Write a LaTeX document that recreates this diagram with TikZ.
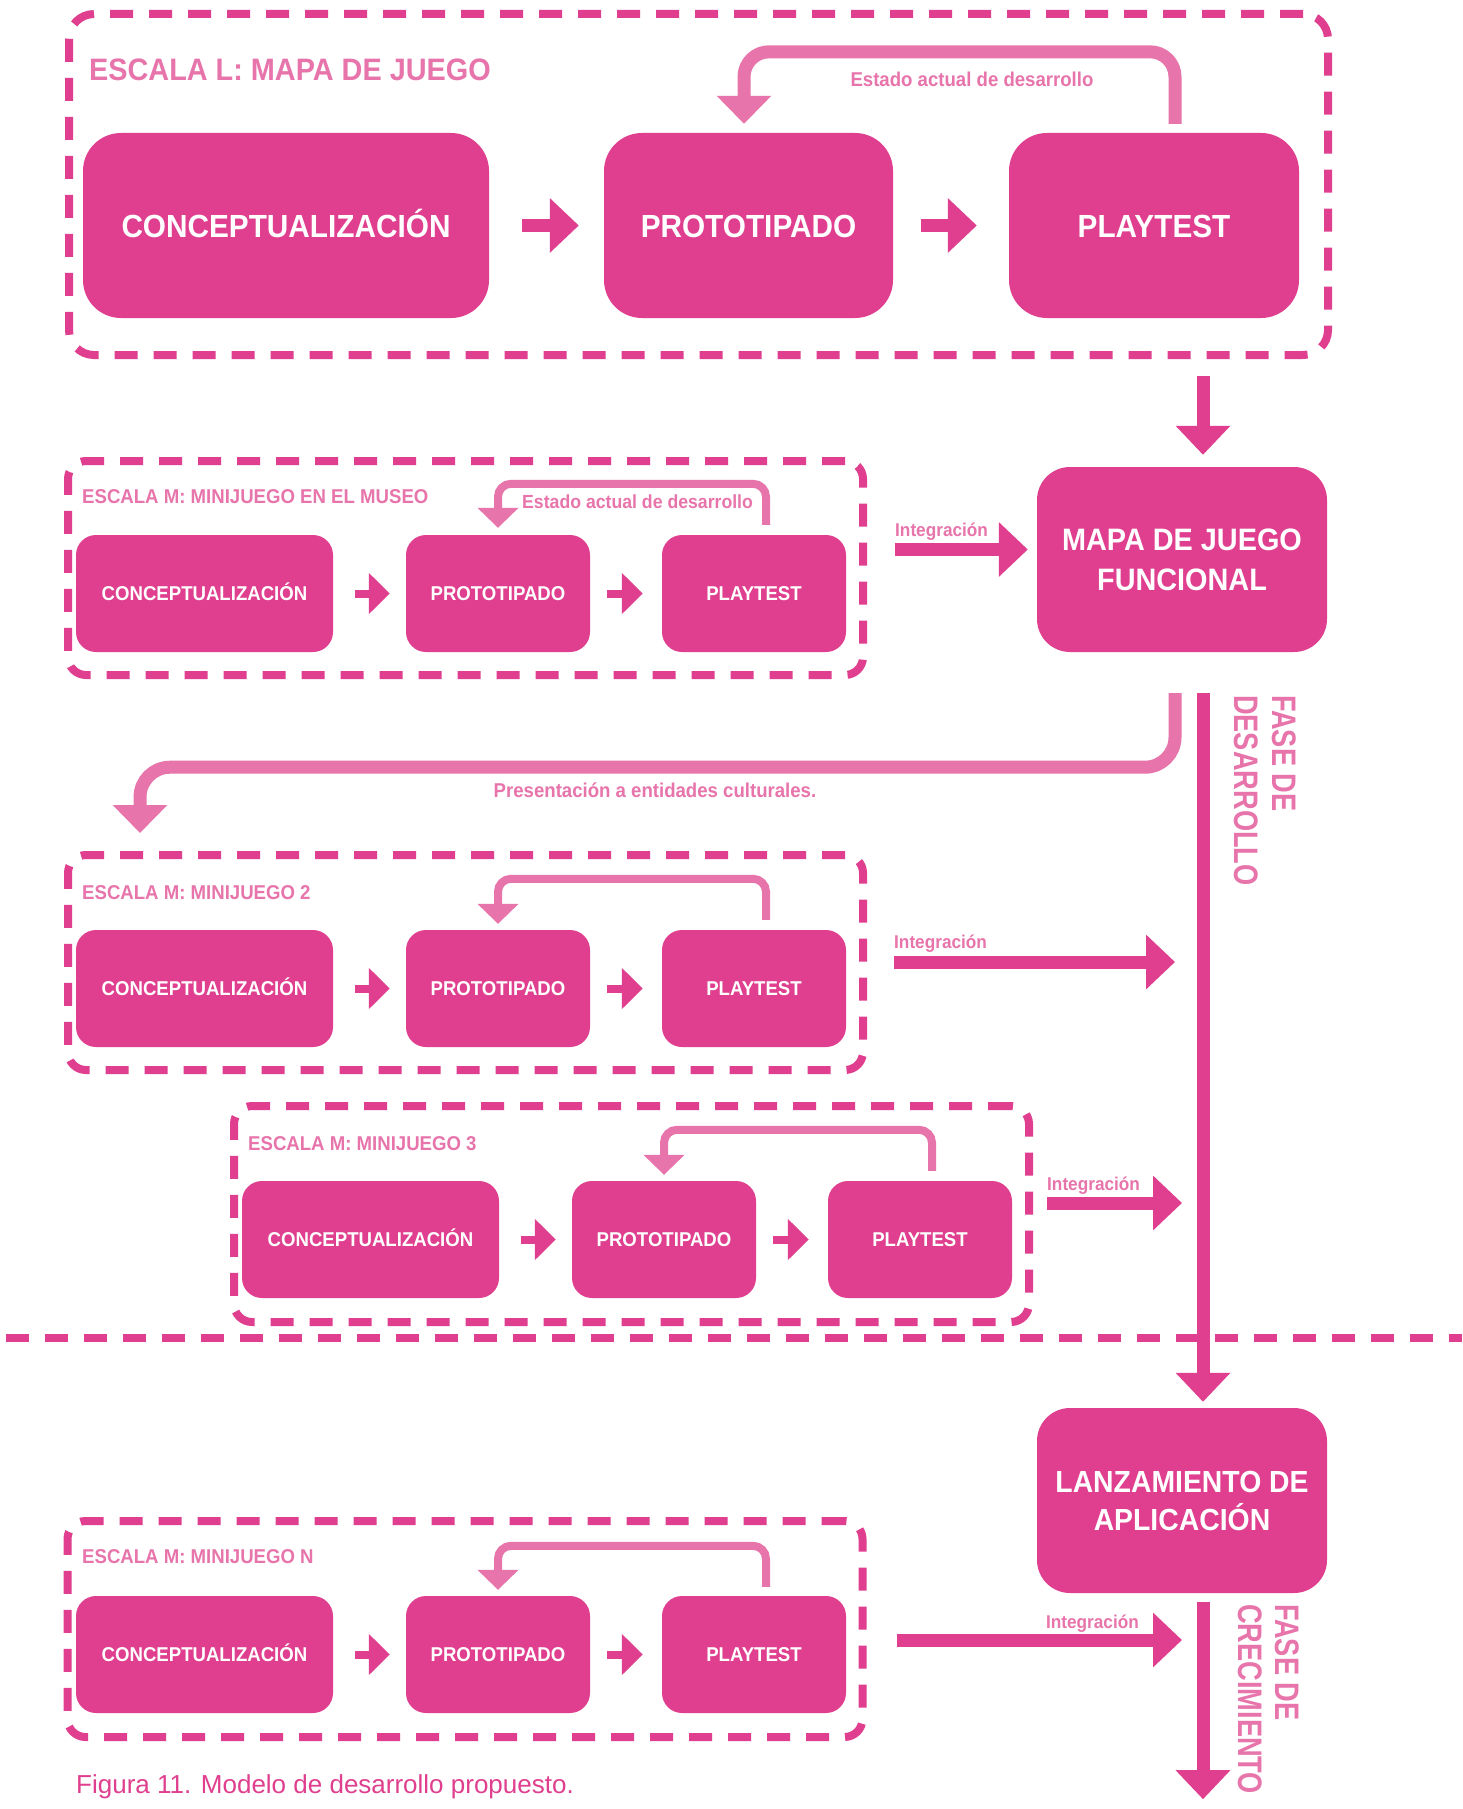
\documentclass[tikz,border=0pt]{standalone}
\usepackage{fontspec}
\setmainfont{Liberation Sans}[FakeStretch=0.93]
\newfontfamily\fasefont{Liberation Sans}[FakeStretch=0.8]
\newfontfamily\capfont{Liberation Sans}
\usetikzlibrary{arrows.meta,calc}
\definecolor{mag}{HTML}{DF3F8E}
\definecolor{lpink}{HTML}{E774AA}
\tikzset{
  lbox/.style={fill=mag, draw=none, rounded corners=38pt, minimum height=185pt, inner sep=0pt, text=white, text height=23pt, text depth=0pt, font=\bfseries\fontsize{32}{38}\selectfont},
  mbox/.style={fill=mag, draw=none, rounded corners=20pt, minimum height=117pt, inner sep=0pt, text=white, text height=14.4pt, text depth=0pt, font=\bfseries\fontsize{20}{24}\selectfont},
  endbox/.style={fill=mag, draw=none, rounded corners=33pt, minimum width=290pt, minimum height=185pt, inner sep=0pt, text=white, align=center},
  dbox/.style={draw=mag, line width=8pt, dash pattern=on 23pt off 16pt, rounded corners=#1, inner sep=0pt},
  sepline/.style={draw=mag, line width=8pt, dash pattern=on 23pt off 16pt},
  ltitle/.style={text=lpink, anchor=base west, inner sep=0pt, font=\bfseries\fontsize{31}{36}\selectfont},
  mtitle/.style={text=lpink, anchor=base west, inner sep=0pt, font=\bfseries\fontsize{20}{24}\selectfont},
  lbl/.style={text=lpink, inner sep=0pt, font=\bfseries\fontsize{20}{24}\selectfont},
  intlbl/.style={text=lpink, inner sep=0pt, font=\bfseries\fontsize{18.5}{22}\selectfont},
  fase/.style={text=lpink, inner sep=0pt, rotate=-90, anchor=base west, font=\fasefont\bfseries\fontsize{34}{40}\selectfont},
  bigarr/.style={draw=mag, line width=13pt, -{Triangle[width=53pt,length=29pt]}},
  smarr/.style={draw=mag, line width=8pt, -{Triangle[width=40pt,length=21pt]}},
  loopL/.style={draw=lpink, line width=13pt, rounded corners=25pt, -{Triangle[width=53pt,length=28pt]}},
  loopM/.style={draw=lpink, line width=8pt, rounded corners=13pt, -{Triangle[width=40pt,length=20pt]}},
}
\begin{document}
\begin{tikzpicture}[x=1pt,y=-1pt]
\useasboundingbox (0,0) rectangle (1462,1809);
\fill[white] (0,0) rectangle (1462,1809);

% ---------- Scale L ----------
\node[dbox=25pt, minimum width=1259pt, minimum height=341pt] (Lbox) at (698.5,184.5) {};
\node[ltitle] (Ltitle) at (89,81) {ESCALA L: MAPA DE JUEGO};
\node[lbox, minimum width=406pt] (c0) at (286,225.5) {CONCEPTUALIZACIÓN};
\node[lbox, minimum width=289pt] (p0) at (748.5,225.5) {PROTOTIPADO};
\node[lbox, minimum width=290pt] (t0) at (1154,225.5) {PLAYTEST};
\draw[bigarr, shorten <=33pt, shorten >=25pt] (c0) -- (p0);
\draw[bigarr, shorten <=28pt, shorten >=32pt] (p0) -- (t0);
\draw[loopL] ($(t0.north)+(21,-9)$) -- ++(0,-72) -| ($(p0.north)+(-4.5,-9)$);
\node[lbl, anchor=base] (Lloop) at (972,87) {Estado actual de desarrollo};

% ---------- end boxes ----------
\node[endbox, font=\bfseries\fontsize{31}{40}\selectfont] (mapa) at (1182,559.5) {MAPA DE JUEGO\\FUNCIONAL};
\node[endbox, font=\bfseries\fontsize{30.5}{38}\selectfont] (lanz) at (1182,1500.5) {LANZAMIENTO DE\\APLICACIÓN};
\draw[bigarr] ($(Lbox.south -| mapa.north)+(21,17)$) -- ($(mapa.north)+(21,-12)$);

% ---------- Museo ----------
\node[dbox=18pt, minimum width=795pt, minimum height=214pt] (mb) at (465.5,568) {};
\node[mtitle] (mbt) at (82,503) {ESCALA M: MINIJUEGO EN EL MUSEO};
\node[mbox, minimum width=257pt] (c1) at (204.5,593.5) {CONCEPTUALIZACIÓN};
\node[mbox, minimum width=184pt] (p1) at (498,593.5) {PROTOTIPADO};
\node[mbox, minimum width=184pt] (t1) at (754,593.5) {PLAYTEST};
\draw[smarr, shorten <=22pt, shorten >=16pt] (c1) -- (p1);
\draw[smarr, shorten <=17pt, shorten >=19pt] (p1) -- (t1);
\draw[loopM] ($(t1.north)+(12,-10)$) -- ++(0,-41) -| ($(p1.north)+(0,-7)$);
\node[lbl, font=\bfseries\fontsize{19}{23}\selectfont, anchor=base west] (mloop) at (522,508) {Estado actual de desarrollo};
\draw[bigarr] ($(mb.east)+(28,-18.5)$) -- ($(mapa.west)+(-9,-10)$);
\node[intlbl, anchor=base west] (i1) at ($(mb.east)+(28,-32)$) {Integración};

% ---------- development phase line ----------
\coordinate (vs) at ($(mapa.south)+(21,41)$);
\draw[bigarr] (vs) -- ($(lanz.north)+(21,-6)$);
\node[fase] (f1a) at (1272,695) {FASE DE};
\node[fase] (f1b) at (1234,695) {DESARROLLO};

% presentation loop
\node[dbox=18pt, minimum width=795pt, minimum height=215pt] (m2) at (465.5,962.5) {};
\draw[loopL, rounded corners=30pt] ($(mapa.south)+(-7,41)$) -- ++(0,74) -| ($(m2.north west)+(76,-18)$);
\node[lbl, anchor=base] (pres) at (655,797) {Presentación a entidades culturales.};

% ---------- Minijuego 2 ----------
\node[mtitle] (m2t) at (82,899) {ESCALA M: MINIJUEGO 2};
\node[mbox, minimum width=257pt] (c2) at (204.5,988.5) {CONCEPTUALIZACIÓN};
\node[mbox, minimum width=184pt] (p2) at (498,988.5) {PROTOTIPADO};
\node[mbox, minimum width=184pt] (t2) at (754,988.5) {PLAYTEST};
\draw[smarr, shorten <=22pt, shorten >=16pt] (c2) -- (p2);
\draw[smarr, shorten <=17pt, shorten >=19pt] (p2) -- (t2);
\draw[loopM] ($(t2.north)+(12,-10)$) -- ++(0,-41) -| ($(p2.north)+(0,-6)$);
\draw[bigarr] ($(m2.east)+(27,-0.5)$) -- ($(vs |- m2.east)+(-28,-0.5)$);
\node[intlbl, anchor=base west] (i2) at ($(m2.east)+(27,-14.5)$) {Integración};

% ---------- Minijuego 3 ----------
\node[dbox=18pt, minimum width=795pt, minimum height=216pt] (m3) at (631.5,1214) {};
\node[mtitle] (m3t) at (248,1150) {ESCALA M: MINIJUEGO 3};
\node[mbox, minimum width=257pt] (c3) at (370.5,1239.5) {CONCEPTUALIZACIÓN};
\node[mbox, minimum width=184pt] (p3) at (664,1239.5) {PROTOTIPADO};
\node[mbox, minimum width=184pt] (t3) at (920,1239.5) {PLAYTEST};
\draw[smarr, shorten <=22pt, shorten >=16pt] (c3) -- (p3);
\draw[smarr, shorten <=17pt, shorten >=19pt] (p3) -- (t3);
\draw[loopM] ($(t3.north)+(12,-10)$) -- ++(0,-41) -| ($(p3.north)+(0,-6)$);
\draw[bigarr] ($(m3.east)+(14,-11)$) -- ($(vs |- m3.east)+(-21,-11)$);
\node[intlbl, anchor=base west] (i3) at ($(m3.east)+(14,-24)$) {Integración};

% ---------- separator ----------
\coordinate (sepL) at (6,1338);
\coordinate (sepR) at (1462,1338);
\draw[sepline] (sepL) -- (sepR);

% ---------- Minijuego N ----------
\node[dbox=18pt, minimum width=795pt, minimum height=216pt] (mN) at (465,1629) {};
\node[mtitle] (mNt) at (82,1563) {ESCALA M: MINIJUEGO N};
\node[mbox, minimum width=257pt] (cN) at (204.5,1654.5) {CONCEPTUALIZACIÓN};
\node[mbox, minimum width=184pt] (pN) at (498,1654.5) {PROTOTIPADO};
\node[mbox, minimum width=184pt] (tN) at (754,1654.5) {PLAYTEST};
\draw[smarr, shorten <=22pt, shorten >=16pt] (cN) -- (pN);
\draw[smarr, shorten <=17pt, shorten >=19pt] (pN) -- (tN);
\draw[loopM] ($(tN.north)+(12,-9)$) -- ++(0,-41) -| ($(pN.north)+(0,-6)$);
\draw[bigarr] ($(mN.east)+(30,11)$) -- ($(vs |- mN.east)+(-21,11)$);
\node[intlbl, anchor=base east] (iN) at ($(vs |- mN.east)+(-64,-1)$) {Integración};

% ---------- growth phase ----------
\coordinate (ge) at ($(lanz.south)+(21,206)$);
\draw[bigarr] ($(lanz.south)+(21,9)$) -- (ge);
\node[fase] (f2a) at (1275,1604) {FASE DE};
\node[fase] (f2b) at (1238,1604) {CRECIMIENTO};

% ---------- caption ----------
\node[anchor=base west, inner sep=0pt, text=mag, font=\capfont\fontsize{26}{30}\selectfont] (cap) at (76,1793) {Figura 11. Modelo de desarrollo propuesto.};
\end{tikzpicture}
\end{document}
